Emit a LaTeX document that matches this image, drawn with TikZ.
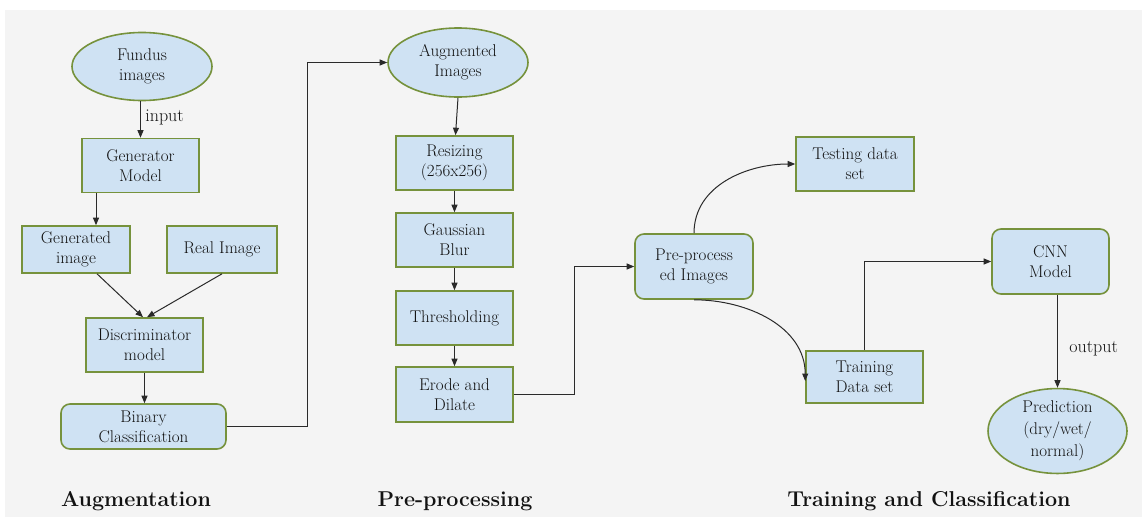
\documentclass[tikz,border=0pt]{standalone}
\usepackage{fontspec}
\usetikzlibrary{arrows.meta,shapes.geometric,calc}
\definecolor{boxfill}{HTML}{CFE2F3}
\definecolor{boxline}{HTML}{76923C}
\definecolor{bgray}{HTML}{F4F4F4}
\definecolor{txt}{HTML}{121212}
\definecolor{wire}{HTML}{2A2A2A}
\tikzset{
  every node/.style={font=\fontsize{17}{20}\selectfont, text=txt},
  base/.style={draw=boxline, fill=boxfill, line width=1.6pt, align=center, inner sep=0pt},
  rect/.style={base, rectangle, minimum width=117pt, minimum height=54pt},
  rrect/.style={rect, rounded corners=9pt},
  oval/.style={base, ellipse, minimum width=140pt, minimum height=68pt},
  conn/.style={draw=wire, line width=1pt, -{Triangle[length=7.5pt,width=6pt]}},
  sectitle/.style={font=\fontsize{21.5}{26}\selectfont\bfseries, anchor=base},
  lbl/.style={font=\fontsize{18}{20}\selectfont}
}
\begin{document}
\begin{tikzpicture}[x=1pt,y=-1pt]
\useasboundingbox (0,0) rectangle (1142,522);
\fill[white] (0,0) rectangle (1142,522);
\fill[bgray] (5,10) rectangle (1142,517);

% Augmentation column
\node[oval] (fundus) at (142,66.5) {Fundus\\images};
\node[rect] (gen) at (140.5,165.5) {Generator\\Model};
\node[rect, minimum width=108pt, minimum height=47pt] (gened) at (76,249.5) {Generated\\image};
\node[rect, minimum width=110pt, minimum height=47pt] (real) at (222,249.5) {Real Image};
\node[rect] (disc) at (144.5,345) {Discriminator\\model};
\node[rrect, minimum width=165pt, minimum height=45pt] (binary) at (143.5,426.5) {Binary\\Classification};

% Pre-processing column
\node[oval, minimum height=69pt] (aug) at (458,62.5) {Augmented\\Images};
\node[rect] (resize) at (454.5,163) {Resizing\\(256x256)};
\node[rect] (gauss) at (454.5,240) {Gaussian\\Blur};
\node[rect] (thresh) at (454.5,318) {Thresholding};
\node[rect, minimum height=55pt] (erode) at (454.5,394.5) {Erode and\\Dilate};

% Training column
\node[rrect, minimum width=118pt, minimum height=65pt] (pre) at (694,266.5) {Pre-process\\ed Images};
\node[rect, minimum width=118pt] (test) at (855,164) {Testing data\\set};
\node[rect, minimum height=52pt] (train) at (864.5,377) {Training\\Data set};
\node[rrect, minimum height=65pt] (cnn) at (1050.5,261.5) {CNN\\Model};
\node[oval, minimum width=139pt, font=\fontsize{17}{22}\selectfont] (pred) at (1057.5,431) {Prediction\\(dry/wet/\\normal)};

% connectors
\draw[conn] ([xshift=-1.5pt]fundus.south) -- node[lbl, right, pos=0.45, xshift=1pt] {input} (gen.north);
\draw[conn] ([xshift=-44.5pt]gen.south) -- ([xshift=20pt]gened.north);
\draw[conn] ([xshift=21pt]gened.south) -- ([xshift=-1.5pt]disc.north);
\draw[conn] (real.south) -- ([xshift=2.5pt]disc.north);
\draw[conn] (disc.south) -- (disc.south |- binary.north);
\draw[conn] (binary.east) -- ++(81,0) |- (aug.west);
\draw[conn] (aug.south) -- ([xshift=1pt]resize.north);
\draw[conn] (resize.south) -- (gauss.north);
\draw[conn] (gauss.south) -- (thresh.north);
\draw[conn] (thresh.south) -- (erode.north);
\draw[conn] (erode.east) -- ++(61,0) |- (pre.west);
\draw[conn] (pre.north) to[out=90,in=180] (test.west);
\draw[conn] (pre.south) to[out=0,in=90] ([yshift=-4pt]train.west);
\draw[conn] (train.north) |- (cnn.west);
\draw[conn] ([xshift=7pt]cnn.south) -- node[lbl, right, pos=0.58, xshift=8pt] {output} (pred.north);

% section titles
\node[sectitle] (t1) at (136,506) {Augmentation};
\node[sectitle] (t2) at (455,506) {Pre-processing};
\node[sectitle] (t3) at (929,506) {Training and Classification};
\end{tikzpicture}
\end{document}
